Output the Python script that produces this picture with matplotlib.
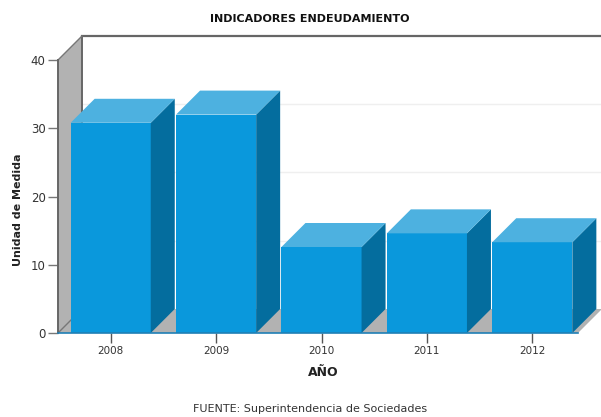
#!/usr/bin/env python
# indicadores endeudamiento - 3d looking bars drawn by hand on a flat axes

import matplotlib
matplotlib.use('Agg')
import matplotlib.pyplot as plt
from matplotlib.patches import Polygon

years = ['2008', '2009', '2010', '2011', '2012']
values = [30.8, 32.0, 12.6, 14.6, 13.3]
yticks = [0, 10, 20, 30, 40]

W, H = 601, 417
# axes box in pixels (front plane)
left, right, y0, y40 = 58, 585, 333, 60
floor_right = 578
depth_px = 24
bar_w = 0.76

fig = plt.figure(figsize=(W / 100, H / 100), dpi=100)
ax = fig.add_axes([left / W, 1 - y0 / H, (right - left) / W, (y0 - y40) / H])
ax.set_xlim(-0.5, 4.5)
ax.set_ylim(0, 40)
ax.patch.set_visible(False)

# depth expressed in data units
dx = depth_px * 5 / (right - left)
dy = depth_px * 40 / (y0 - y40)
top = 40 + dy
xf = -0.5 + 5 * (floor_right - left) / (right - left)


def poly(points, color, z, edge='none', lw=0):
    p = Polygon(points, closed=True, facecolor=color, edgecolor=edge, linewidth=lw,
                zorder=z, clip_on=False)
    ax.add_patch(p)


# side wall and floor
poly([(-0.5, 0), (-0.5 + dx, dy), (-0.5 + dx, top), (-0.5, 40)], '#b2b2b2', 1)
poly([(-0.5, 0), (xf, 0), (xf + dx, dy), (-0.5 + dx, dy)], '#b2b2b2', 1)

# back wall lines
xr = -0.5 + 5 * (W - left) / (right - left)
for v in [10, 20, 30]:
    ax.plot([-0.5 + dx, xr], [v + dy, v + dy], color='#efefef', lw=1, zorder=1.5, clip_on=False)
ax.plot([-0.5 + dx, xr], [top, top], color='#666666', lw=1.6, zorder=2, clip_on=False)
ax.plot([-0.5 + dx, -0.5 + dx], [dy, top], color='#666666', lw=1.4, zorder=2, clip_on=False)
ax.plot([-0.5, -0.5 + dx], [40, top], color='#777777', lw=1, zorder=2, clip_on=False)
ax.plot([-0.5, -0.5 + dx], [0, dy], color='#777777', lw=1, zorder=2, clip_on=False)
ax.plot([-0.5, -0.5], [0, 40], color='#666666', lw=1.4, zorder=2, clip_on=False)

# bars
for i, v in enumerate(values):
    a = i - bar_w / 2
    b = i + bar_w / 2
    ax.bar(i, v, bar_w, color='#0a98dc', zorder=3 + i)
    poly([(b, 0), (b + dx, dy), (b + dx, v + dy), (b, v)], '#046d9e', 3 + i)
    poly([(a, v), (b, v), (b + dx, v + dy), (a + dx, v + dy)], '#4db1e0', 3 + i)

ax.plot([-0.5, xf], [0, 0], color='#1f7fb5', lw=1.2, zorder=10, clip_on=False)

for s in ax.spines.values():
    s.set_visible(False)
ax.set_xticks(range(len(years)))
ax.set_xticklabels(years, fontsize=7.5, color='#333333')
ax.set_yticks(yticks)
ax.set_yticklabels(yticks, fontsize=8.5, color='#333333')
ax.tick_params(axis='x', length=7, width=1, color='#555555', pad=2)
ax.tick_params(axis='y', length=7, width=1, color='#777777', pad=2)

fig.text(323 / W, 1 - 372 / H, 'AÑO', fontsize=9, fontweight='bold', color='#222222',
         ha='center', va='center')
fig.text(18 / W, 1 - 210 / H, 'Unidad de Medida', fontsize=8, fontweight='bold', color='#222222',
         rotation=90, ha='center', va='center')
fig.text(310 / W, 1 - 19 / H, 'INDICADORES ENDEUDAMIENTO', fontsize=8, fontweight='bold',
         color='#111111', ha='center', va='center')
fig.text(310 / W, 1 - 409 / H, 'FUENTE: Superintendencia de Sociedades', fontsize=8,
         color='#333333', ha='center', va='center')

fig.savefig('out.png', dpi=100)
